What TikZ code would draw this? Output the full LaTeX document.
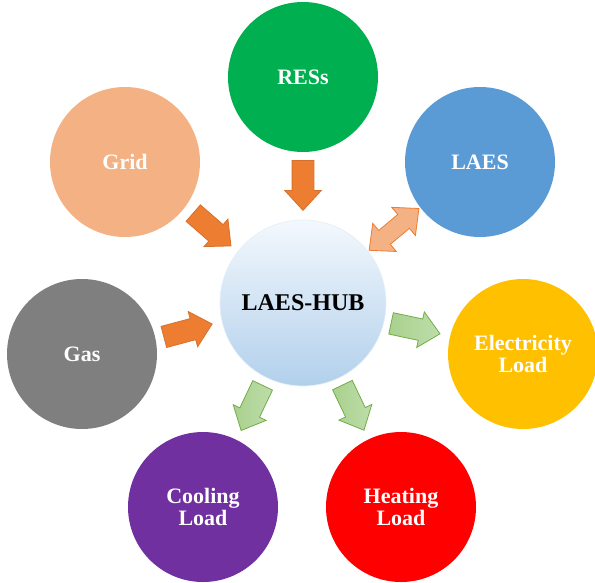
\documentclass[tikz,border=0pt]{standalone}
\usepackage{fontspec}
\setmainfont{Liberation Serif}
\usetikzlibrary{shapes.arrows,calc}

\definecolor{resgreen}{RGB}{0,176,80}
\definecolor{gridpeach}{RGB}{244,177,131}
\definecolor{laesblue}{RGB}{91,155,213}
\definecolor{gasgrey}{RGB}{127,127,127}
\definecolor{elecyellow}{RGB}{255,192,0}
\definecolor{coolpurple}{RGB}{112,48,160}
\definecolor{heatred}{RGB}{255,0,0}
\definecolor{arroworange}{RGB}{237,125,49}
\definecolor{arrowgreen}{RGB}{169,209,142}
\definecolor{arrowgreenedge}{RGB}{112,173,71}
\definecolor{hubtop}{RGB}{243,248,253}
\definecolor{hubbottom}{RGB}{178,208,235}

\tikzset{every picture/.style={line width=0.75pt}}
\tikzset{
  unit/.style={circle, minimum size=112.5pt, inner sep=0pt, text=white, align=center,
    font=\fontsize{16.5}{16.8}\selectfont\bfseries},
  hubnode/.style={circle, minimum size=124.5pt, inner sep=0pt, top color=hubtop, bottom color=hubbottom,
    draw=hubbottom!35!white, line width=0.5pt, font=\fontsize{18}{20}\selectfont\bfseries},
  blockarrow/.style={single arrow, minimum height=37.5pt, inner xsep=0pt, inner ysep=7.875pt,
    single arrow head extend=5.5pt, single arrow tip angle=85, line width=0.6pt},
  inarrow/.style={blockarrow, anchor=tip, fill=arroworange, draw=arroworange!90!black},
  outarrow/.style={blockarrow, anchor=tail, left color=arrowgreen, right color=arrowgreen!75!white, draw=arrowgreenedge},
  twoarrow/.style={double arrow, anchor=tip 2, minimum height=48.75pt, inner xsep=0pt, inner ysep=6.5pt,
    double arrow head extend=7pt, double arrow tip angle=85, line width=0.6pt,
    fill=gridpeach, draw=arroworange}
}

\begin{document}
\begin{tikzpicture}[x=0.75pt,y=0.75pt,yscale=-1,xscale=1]
	\useasboundingbox (0,0) rectangle (595,582);

	% hub
	\node[hubnode] (hub) at (303,303) {LAES-HUB};

	% surrounding circles
	\node[unit, fill=resgreen] (res) at (303,77) {RESs};
	\node[unit, fill=gridpeach] (grid) at (125,162) {Grid};
	\node[unit, fill=laesblue] (laes) at (480,162) {LAES};
	\node[unit, fill=gasgrey] (gas) at (82,354) {Gas};
	\node[unit, fill=elecyellow] (elec) at (523,354) {Electricity\\Load};
	\node[unit, fill=coolpurple] (cool) at (203,507) {Cooling\\Load};
	\node[unit, fill=heatred] (heat) at (401,507) {Heating\\Load};

	% inputs
	\node[inarrow, rotate=-90] (resarrow) at ($(hub)!69pt!(res)$) {};
	\node[inarrow, rotate=-41] (gridarrow) at ($(hub)!68.5pt!(grid)$) {};
	\node[inarrow, rotate=15] (gasarrow) at ($(hub)!69.5pt!(gas)$) {};

	% storage
	\node[twoarrow, rotate=40] (laesarrow) at ($(hub)!63pt!(laes)$) {};

	% outputs
	\node[outarrow, rotate=-12] (elecarrow) at ($(hub)!67.5pt!(elec)$) {};
	\node[outarrow, rotate=-115.5] (coolarrow) at ($(hub)!68.5pt!(cool)$) {};
	\node[outarrow, rotate=-64.5] (heatarrow) at ($(hub)!68pt!(heat)$) {};

\end{tikzpicture}
\end{document}
